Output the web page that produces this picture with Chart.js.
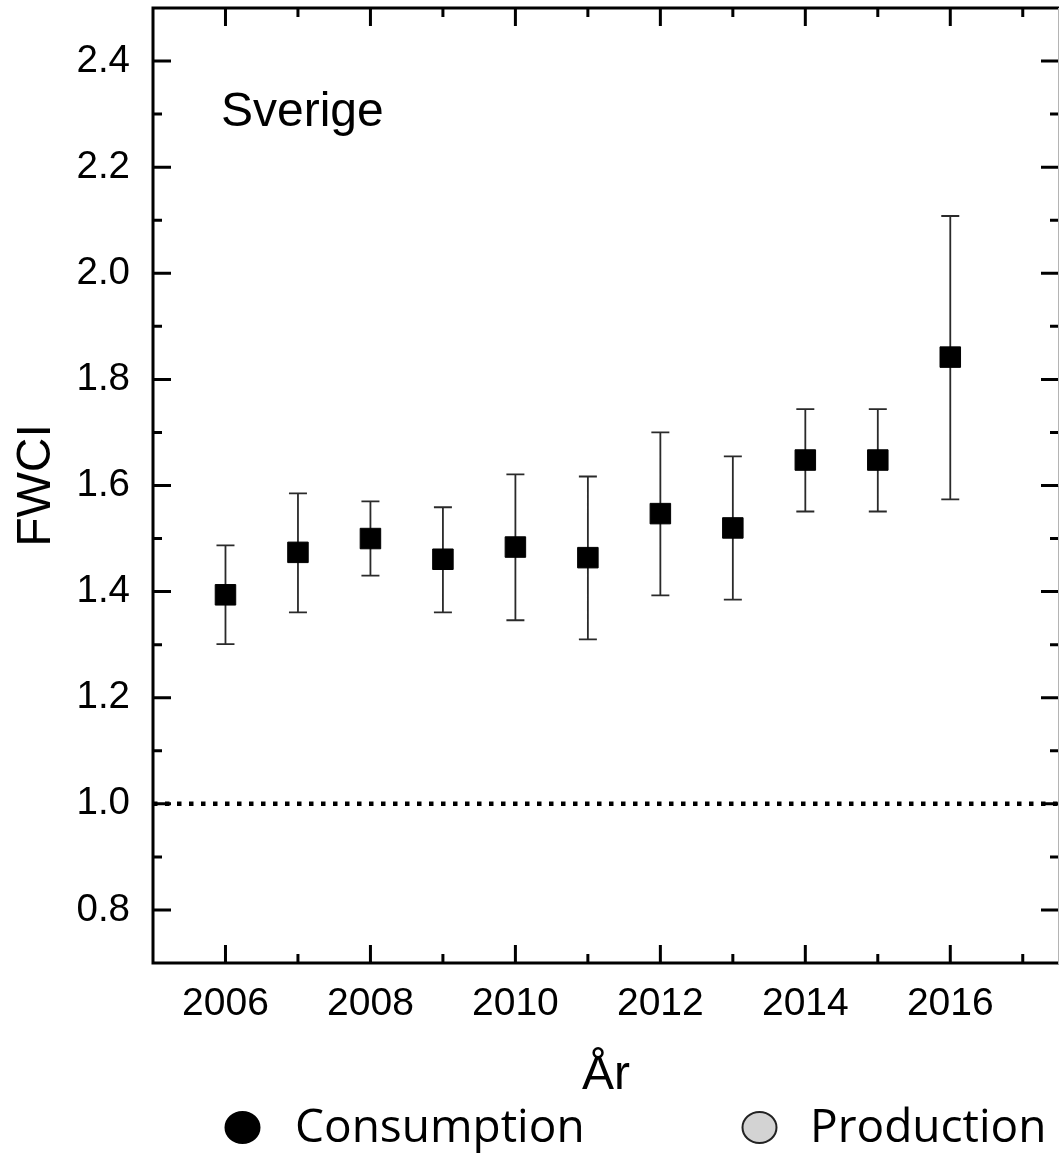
<!DOCTYPE html>
<html>
<head>
<meta charset="utf-8">
<script src="https://cdn.jsdelivr.net/npm/chart.js@4.4.1/dist/chart.umd.min.js"></script>
<style>
  html, body { margin: 0; padding: 0; background: #fff; }
  #wrap { width: 1059px; height: 1153px; overflow: hidden; }
</style>
</head>
<body>
<div id="wrap"><canvas id="fwciChart" width="1059" height="1153"></canvas></div>
<script>
// FWCI per år (Sverige), med konfidensintervall
const years = [2006, 2007, 2008, 2009, 2010, 2011, 2012, 2013, 2014, 2015, 2016];
const fwci = [1.394, 1.474, 1.500, 1.461, 1.484, 1.464, 1.547, 1.520, 1.648, 1.648, 1.842];
const ciLow = [1.301, 1.361, 1.430, 1.361, 1.346, 1.310, 1.393, 1.385, 1.551, 1.551, 1.574];
const ciHigh = [1.487, 1.585, 1.570, 1.559, 1.621, 1.617, 1.700, 1.655, 1.744, 1.744, 2.108];
const referenceLevel = 1.0;

const xMajorTicks = [2006, 2008, 2010, 2012, 2014, 2016];
const xMinorTicks = [2007, 2009, 2011, 2013, 2015, 2017];
const yMajorTicks = [0.8, 1.0, 1.2, 1.4, 1.6, 1.8, 2.0, 2.2, 2.4];
const yMinorTicks = [0.9, 1.1, 1.3, 1.5, 1.7, 1.9, 2.1, 2.3];

const legendLabels = ['Consumption', 'Production'];
const legendFill = ['#000000', '#d3d3d3'];

const axisFont = 'Liberation Sans, Arial, sans-serif';

// nollställ etikett-utfyllnad så att ritytan blir exakt
const noPad = s => { s.paddingTop = 0; s.paddingBottom = 0; s.paddingLeft = 0; s.paddingRight = 0; };

// felstaplar under kvadraterna
const errorBars = {
    id: 'errorBars',
    beforeDatasetsDraw(chart) {
        const {ctx, scales: {x, y}} = chart;
        ctx.save();
        ctx.strokeStyle = '#2a2a2a';
        ctx.lineWidth = 1.8;
        ctx.beginPath();
        years.forEach((yr, i) => {
            const px = x.getPixelForValue(yr);
            const top = y.getPixelForValue(ciHigh[i]);
            const bot = y.getPixelForValue(ciLow[i]);
            ctx.moveTo(px, top); ctx.lineTo(px, bot);
            ctx.moveTo(px - 9, top); ctx.lineTo(px + 9, top);
            ctx.moveTo(px - 9, bot); ctx.lineTo(px + 9, bot);
        });
        ctx.stroke();
        ctx.restore();
    }
};

// ram med inåtriktade tickmarkeringar, etikett och legend
const frame = {
    id: 'frame',
    afterDraw(chart) {
        const {ctx, chartArea: a, scales: {x, y}} = chart;
        ctx.save();
        ctx.strokeStyle = '#000';
        ctx.lineWidth = 3;
        ctx.beginPath();
        ctx.moveTo(a.left, a.top); ctx.lineTo(a.right, a.top);
        ctx.moveTo(a.left, a.top - 1.5); ctx.lineTo(a.left, a.bottom + 1.5);
        ctx.moveTo(a.left, a.bottom); ctx.lineTo(a.right, a.bottom);
        const xt = (v, len) => {
            const px = x.getPixelForValue(v);
            ctx.moveTo(px, a.bottom); ctx.lineTo(px, a.bottom - len);
            ctx.moveTo(px, a.top); ctx.lineTo(px, a.top + len);
        };
        const yt = (v, len) => {
            const py = y.getPixelForValue(v);
            ctx.moveTo(a.left, py); ctx.lineTo(a.left + len, py);
            ctx.moveTo(a.right, py); ctx.lineTo(a.right - len, py);
        };
        xMajorTicks.forEach(v => xt(v, 18));
        xMinorTicks.forEach(v => xt(v, 9));
        yMajorTicks.forEach(v => yt(v, 18));
        yMinorTicks.forEach(v => yt(v, 9));
        ctx.stroke();
        // högerkanten syns bara som en tunn grå linje
        ctx.strokeStyle = '#b4b4b4';
        ctx.lineWidth = 1;
        ctx.beginPath();
        ctx.moveTo(1058.5, a.top); ctx.lineTo(1058.5, a.bottom + 1.5);
        ctx.stroke();

        ctx.fillStyle = '#000';
        ctx.font = '48px ' + axisFont;
        ctx.textAlign = 'left';
        ctx.textBaseline = 'alphabetic';
        ctx.fillText('Sverige', a.left + 68, a.top + 118);

        // legend
        const cx = [242.5, 759.5];
        const tx = [295, 810];
        ctx.font = '46px "Open Sans", sans-serif';
        legendLabels.forEach((lab, i) => {
            ctx.beginPath();
            ctx.ellipse(cx[i], 1127.5, 17, 15.5, 0, 0, Math.PI * 2);
            ctx.fillStyle = legendFill[i];
            ctx.fill();
            ctx.lineWidth = 2;
            ctx.strokeStyle = i === 0 ? '#000' : '#222';
            ctx.stroke();
            ctx.fillStyle = '#000';
            ctx.fillText(lab, tx[i], 1142);
        });
        ctx.restore();
    }
};

const ctx = document.getElementById('fwciChart').getContext('2d');
new Chart(ctx, {
    type: 'scatter',
    data: {
        datasets: [
            {
                label: legendLabels[0],
                data: years.map((yr, i) => ({x: yr, y: fwci[i]})),
                pointStyle: 'rect',
                pointRadius: 14.5,
                backgroundColor: '#000',
                borderColor: '#000',
                borderWidth: 1,
                order: 1
            },
            {
                label: 'FWCI = 1',
                type: 'line',
                data: [{x: 2005, y: referenceLevel}, {x: 2017.5, y: referenceLevel}],
                borderColor: '#000',
                borderWidth: 4.5,
                borderDash: [4.5, 7.5],
                pointRadius: 0,
                order: 2
            }
        ]
    },
    options: {
        responsive: false,
        animation: false,
        layout: {autoPadding: false, padding: {left: 0, right: -1, top: 8, bottom: 48}},
        plugins: {
            legend: {display: false},
            tooltip: {enabled: false}
        },
        scales: {
            x: {
                type: 'linear',
                min: 2005,
                max: 2017.5,
                grid: {display: false, drawTicks: false},
                border: {display: false},
                afterBuildTicks: s => { s.ticks = xMajorTicks.map(v => ({value: v})); },
                afterFit: s => { s.height = 142; noPad(s); },
                ticks: {
                    color: '#000',
                    font: {family: axisFont, size: 39},
                    padding: 18,
                    maxRotation: 0,
                    callback: v => String(v)
                },
                title: {
                    display: true,
                    text: 'År',
                    color: '#000',
                    font: {family: axisFont, size: 48},
                    padding: 0
                }
            },
            y: {
                min: 0.7,
                max: 2.5,
                grid: {display: false, drawTicks: false},
                border: {display: false},
                afterBuildTicks: s => { s.ticks = yMajorTicks.map(v => ({value: v})); },
                afterFit: s => { s.width = 153; noPad(s); },
                ticks: {
                    color: '#000',
                    font: {family: axisFont, size: 38.5},
                    padding: 23,
                    callback: v => v.toFixed(1)
                },
                title: {
                    display: true,
                    text: 'FWCI',
                    color: '#000',
                    font: {family: axisFont, size: 48},
                    padding: {top: 8, bottom: 0}
                }
            }
        }
    },
    plugins: [errorBars, frame]
});
</script>
</body>
</html>
